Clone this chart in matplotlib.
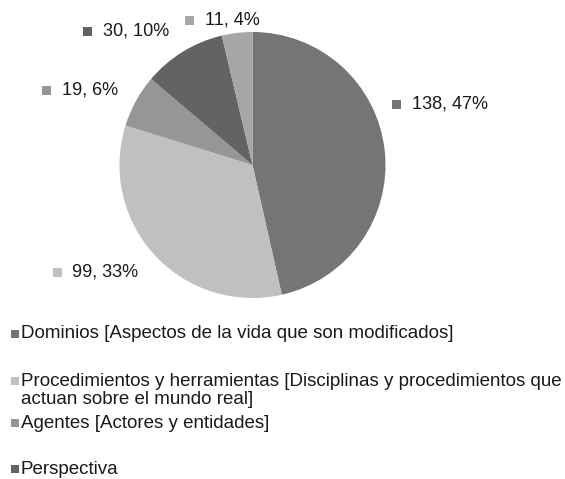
import matplotlib.pyplot as plt
from matplotlib.patches import Rectangle

plt.rcParams['font.family'] = ['Liberation Sans', 'DejaVu Sans']

# data
labels = ["Dominios [Aspectos de la vida que son modificados]",
          "Procedimientos y herramientas [Disciplinas y procedimientos que\nactuan sobre el mundo real]",
          "Agentes [Actores y entidades]",
          "Perspectiva",
          "Otros"]
values = [138, 99, 19, 30, 11]
percents = [47, 33, 6, 10, 4]
colors = ["#757575", "#c0c0c0", "#969696", "#636363", "#a6a6a6"]

W, H = 565, 479
fig = plt.figure(figsize=(W / 100, H / 100), dpi=100)


def fx(x):
    return x / W


def fy(y):
    # y measured from the top of the image
    return 1 - y / H


# pie: centre (252.5, 165), radius 133 px
ax = fig.add_axes([fx(119.5), fy(298), fx(266), 266 / H])
ax.pie(values, colors=colors, startangle=90, counterclock=False,
       wedgeprops=dict(linewidth=0))
ax.set_xlim(-1, 1)
ax.set_ylim(-1, 1)
ax.set_aspect('equal')
ax.axis('off')

# data labels: (marker centre x, text left x, y centre)
label_pos = [(396, 412, 104), (57.5, 72, 272), (46, 62, 90),
             (87, 103, 31), (189.5, 205, 20)]
msz = 9
for (mx, tx, ty), v, p, c in zip(label_pos, values, percents, colors):
    fig.patches.append(Rectangle((fx(mx - msz / 2), fy(ty + msz / 2)),
                                 msz / W, msz / H, transform=fig.transFigure,
                                 facecolor=c, edgecolor='none'))
    fig.text(fx(tx), fy(ty), f"{v}, {p}%", fontsize=13.1, va='center',
             ha='left', color='#1a1a1a')

# legend (only the first four entries fit in the reference)
leg_y = [334, 381, 423, 469]
lsz = 8
for lab, c, ly in zip(labels[:4], colors[:4], leg_y):
    fig.patches.append(Rectangle((fx(11), fy(ly + lsz / 2)), lsz / W, lsz / H,
                                 transform=fig.transFigure,
                                 facecolor=c, edgecolor='none'))
    fig.text(fx(21), fy(ly - 8.5), lab, fontsize=13.5, va='top', ha='left',
             color='#1a1a1a', linespacing=1.1)

fig.savefig("out.png", dpi=100)
